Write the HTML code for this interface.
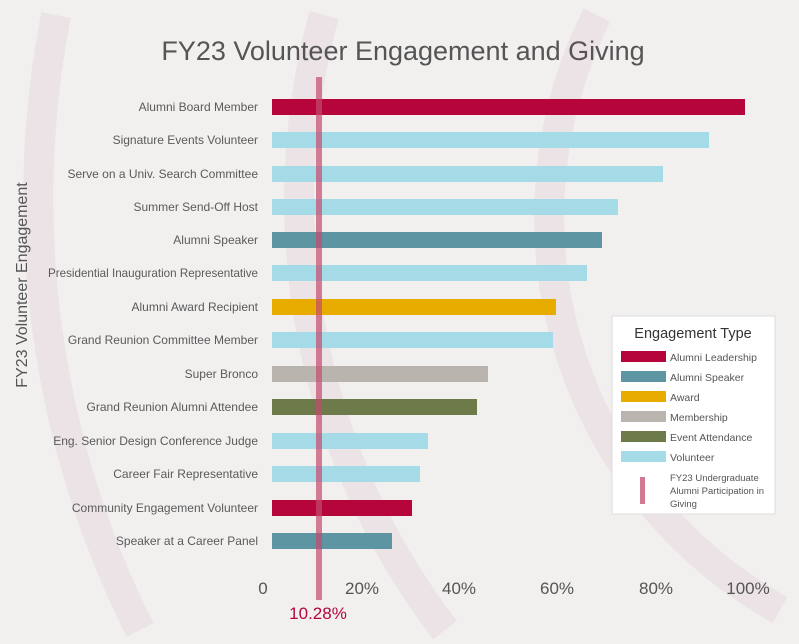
<!DOCTYPE html>
<html><head><meta charset="utf-8"><style>
html,body{margin:0;padding:0;width:799px;height:644px;overflow:hidden}
body{background:#f2f0ef;font-family:"Liberation Sans",sans-serif;position:relative}
svg{display:block;position:absolute;left:0;top:0;overflow:hidden}
</style></head><body>
<svg width="799" height="644" viewBox="0 0 799 644">
<g fill="none" stroke="#ebe3e5" stroke-width="30">
<path d="M56,15 A965,965 0 0,0 140,630"/>
<path d="M324,15 A705,705 0 0,0 445,630"/>
<path d="M597,15 A450,450 0 0,0 780,610"/>
</g>
<g>
<rect x="272" y="99" width="473" height="16" fill="#b5053b"/>
<rect x="272" y="132" width="437" height="16" fill="#a4dbe7"/>
<rect x="272" y="166" width="391" height="16" fill="#a4dbe7"/>
<rect x="272" y="199" width="346" height="16" fill="#a4dbe7"/>
<rect x="272" y="232" width="330" height="16" fill="#5e95a2"/>
<rect x="272" y="265" width="315" height="16" fill="#a4dbe7"/>
<rect x="272" y="299" width="284" height="16" fill="#e8ab00"/>
<rect x="272" y="332" width="281" height="16" fill="#a4dbe7"/>
<rect x="272" y="366" width="216" height="16" fill="#b9b4ae"/>
<rect x="272" y="399" width="205" height="16" fill="#6d7a4a"/>
<rect x="272" y="433" width="156" height="16" fill="#a4dbe7"/>
<rect x="272" y="466" width="148" height="16" fill="#a4dbe7"/>
<rect x="272" y="500" width="140" height="16" fill="#b5053b"/>
<rect x="272" y="533" width="120" height="16" fill="#5e95a2"/>
</g>
<rect x="316" y="77" width="6" height="523" fill="#c44a6e" opacity="0.7"/>
<rect x="612" y="316" width="163" height="198" fill="#fff" stroke="#ddd"/>
<g>
<rect x="621" y="351" width="45" height="11" fill="#b5053b"/>
<rect x="621" y="371" width="45" height="11" fill="#5e95a2"/>
<rect x="621" y="391" width="45" height="11" fill="#e8ab00"/>
<rect x="621" y="411" width="45" height="11" fill="#b9b4ae"/>
<rect x="621" y="431" width="45" height="11" fill="#6d7a4a"/>
<rect x="621" y="451" width="45" height="11" fill="#a4dbe7"/>
<rect x="640" y="477" width="5" height="27" fill="#d27a93"/>
</g>
<g font-family="Liberation Sans, sans-serif" fill="#555" font-size="10.5">
<text x="670" y="361">Alumni Leadership</text>
<text x="670" y="381">Alumni Speaker</text>
<text x="670" y="401">Award</text>
<text x="670" y="421">Membership</text>
<text x="670" y="441">Event Attendance</text>
<text x="670" y="461">Volunteer</text>
<text x="670" y="481" font-size="9.5">FY23 Undergraduate</text>
<text x="670" y="494" font-size="9.5">Alumni Participation in</text>
<text x="670" y="507" font-size="9.5">Giving</text>
<text x="693" y="338" font-size="14.5" text-anchor="middle" fill="#333">Engagement Type</text>
</g>
<g font-family="Liberation Sans, sans-serif" fill="#5a5a5a" font-size="12" text-anchor="end">
<text x="258" y="111">Alumni Board Member</text>
<text x="258" y="144">Signature Events Volunteer</text>
<text x="258" y="178">Serve on a Univ. Search Committee</text>
<text x="258" y="211">Summer Send-Off Host</text>
<text x="258" y="244">Alumni Speaker</text>
<text x="258" y="277" textLength="210" lengthAdjust="spacingAndGlyphs">Presidential Inauguration Representative</text>
<text x="258" y="311">Alumni Award Recipient</text>
<text x="258" y="344">Grand Reunion Committee Member</text>
<text x="258" y="378">Super Bronco</text>
<text x="258" y="411">Grand Reunion Alumni Attendee</text>
<text x="258" y="445">Eng. Senior Design Conference Judge</text>
<text x="258" y="478">Career Fair Representative</text>
<text x="258" y="512">Community Engagement Volunteer</text>
<text x="258" y="545">Speaker at a Career Panel</text>
</g>
<g font-family="Liberation Sans, sans-serif" fill="#555" font-size="17" text-anchor="middle">
<text x="263" y="594">0</text>
<text x="362" y="594">20%</text>
<text x="459" y="594">40%</text>
<text x="557" y="594">60%</text>
<text x="656" y="594">80%</text>
<text x="748" y="594">100%</text>
<text x="318" y="619" fill="#b5053b">10.28%</text>
</g>
<text x="403" y="60" font-family="Liberation Sans, sans-serif" font-size="27" fill="#555" text-anchor="middle">FY23 Volunteer Engagement and Giving</text>
<text transform="translate(27,285) rotate(-90)" font-family="Liberation Sans, sans-serif" font-size="16" fill="#555" text-anchor="middle">FY23 Volunteer Engagement</text>
</svg>
</body></html>
